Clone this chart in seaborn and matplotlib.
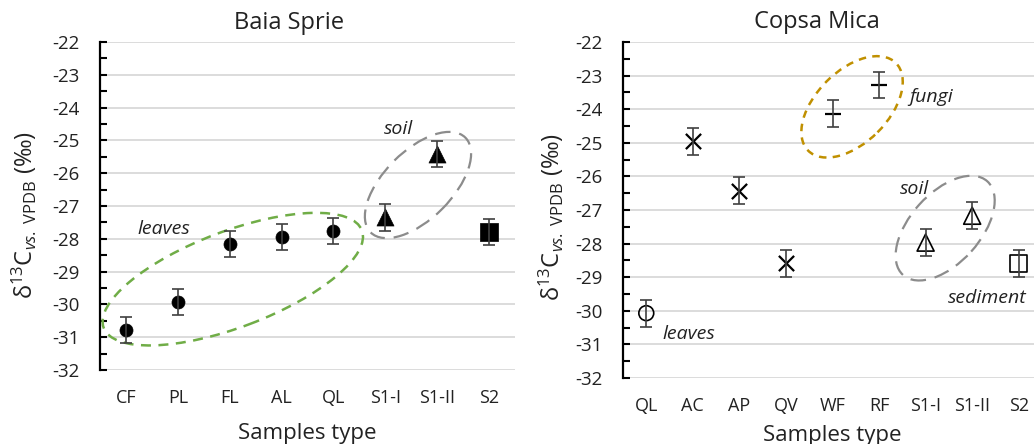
import matplotlib
matplotlib.use('Agg')
import matplotlib.pyplot as plt
import matplotlib.transforms as mtransforms
from matplotlib.patches import Ellipse
from matplotlib.ticker import MultipleLocator
import pandas as pd
import seaborn as sns

# Baia Sprie
bs_samples = ['CF', 'PL', 'FL', 'AL', 'QL', 'S1-I', 'S1-II', 'S2']
bs_d13c = [-30.78, -29.93, -28.16, -27.94, -27.76, -27.35, -25.42, -27.80]
bs_err = [0.40, 0.40, 0.40, 0.40, 0.40, 0.40, 0.40, 0.40]
bs_type = ['leaves', 'leaves', 'leaves', 'leaves', 'leaves', 'soil', 'soil', 'sediment']

# Copsa Mica
cm_samples = ['QL', 'AC', 'AP', 'QV', 'WF', 'RF', 'S1-I', 'S1-II', 'S2']
cm_d13c = [-30.07, -24.95, -26.43, -28.58, -24.14, -23.28, -27.97, -27.17, -28.60]
cm_err = [0.40, 0.40, 0.40, 0.40, 0.40, 0.40, 0.40, 0.40, 0.40]
cm_type = ['leaves', 'bark', 'bark', 'bark', 'fungi', 'fungi', 'soil', 'soil', 'sediment']

sns.set_theme(style='white')
plt.rcParams['font.family'] = ['Open Sans', 'DejaVu Sans']
plt.rcParams['axes.unicode_minus'] = False
plt.rcParams['mathtext.fontset'] = 'custom'
plt.rcParams['mathtext.rm'] = 'Open Sans'
plt.rcParams['mathtext.it'] = 'Open Sans:italic'

bs = pd.DataFrame({'sample': bs_samples, 'd13C': bs_d13c, 'err': bs_err, 'type': bs_type})
cm = pd.DataFrame({'sample': cm_samples, 'd13C': cm_d13c, 'err': cm_err, 'type': cm_type})

# marker, size, filled
bs_style = {'leaves': ('o', 88, True), 'soil': ('^', 150, True), 'sediment': ('s', 165, True)}
cm_style = {'leaves': ('o', 115, False), 'bark': ('x', 120, None), 'fungi': ('_', 135, None),
            'soil': ('^', 150, False), 'sediment': ('s', 150, False)}

fig = plt.figure(figsize=(10.34, 4.44), dpi=100)
ax1 = fig.add_axes([100/1034, 74/444, 415/1034, 328/444])
ax2 = fig.add_axes([623/1034, 66/444, 419/1034, 336/444])


def draw_panel(ax, df, styles, lab_pad):
    ax.errorbar(df['sample'], df['d13C'], yerr=df['err'], fmt='none',
                ecolor='#404040', elinewidth=1.2, capsize=4.3, capthick=1.2, zorder=5)
    for t, (m, s, filled) in styles.items():
        sub = df[df['type'] == t]
        if filled is None:
            sns.scatterplot(data=sub, x='sample', y='d13C', marker=m, s=s, color='black',
                            linewidth=1.6, ax=ax, zorder=4, legend=False)
        elif filled:
            sns.scatterplot(data=sub, x='sample', y='d13C', marker=m, s=s, facecolor='black',
                            edgecolor='black', linewidth=0.5, ax=ax, zorder=4, legend=False)
        else:
            sns.scatterplot(data=sub, x='sample', y='d13C', marker=m, s=s, facecolor='none',
                            edgecolor='black', linewidth=1.2, ax=ax, zorder=4, legend=False)
    ax.set_xlim(-0.5, len(df) - 0.5)
    ax.set_ylim(-32, -22)
    ax.yaxis.set_major_locator(MultipleLocator(1))
    ax.yaxis.set_minor_locator(MultipleLocator(0.5))
    ax.grid(visible=True, which='major', axis='y', color='#d9d9d9', linewidth=1.3)
    ax.set_axisbelow(True)
    for sp in ['top', 'right', 'bottom']:
        ax.spines[sp].set_visible(False)
    ax.spines['left'].set_color('black')
    ax.spines['left'].set_linewidth(1.6)
    ax.tick_params(axis='y', which='both', direction='in', length=5, width=1.5,
                   color='black', left=True, pad=lab_pad, labelsize=13.5, labelcolor='#222222')
    ax.tick_params(axis='x', length=0, pad=14, labelsize=13, labelcolor='#222222')
    ax.set_xlabel('')
    ax.set_ylabel('')


def ring(ax, x, y, a, b, angle, color, dashes, lw):
    tr = fig.dpi_scale_trans + mtransforms.ScaledTranslation(x, y, ax.transData)
    e = Ellipse((0, 0), width=2*a/100, height=2*b/100, angle=angle, transform=tr,
                fill=False, edgecolor=color, linewidth=lw, linestyle=(0, dashes),
                clip_on=False, zorder=2)
    ax.add_patch(e)


draw_panel(ax1, bs, bs_style, 15)
draw_panel(ax2, cm, cm_style, 15)

ring(ax1, 2.06, -29.23, 138, 48, 20.7, '#70ad47', (4, 3), 1.8)
ring(ax1, 5.63, -26.36, 67, 34, 45, '#8c8c8c', (7, 4), 1.6)
ring(ax2, 4.42, -23.93, 62, 36, 45, '#c09000', (3, 2.5), 1.8)
ring(ax2, 6.42, -27.54, 63, 35, 48, '#8c8c8c', (7, 4), 1.6)

note = dict(fontsize=14, style='italic', color='#222222', ha='center', va='center')
ax1.text(0.73, -27.70, 'leaves', **note)
ax1.text(5.25, -24.65, 'soil', **note)
ax2.text(6.12, -23.64, 'fungi', **note)
ax2.text(5.75, -26.38, 'soil', **note)
ax2.text(6.48, -29.62, 'sediment', **{**note, 'ha': 'left'})
ax2.text(0.92, -30.69, 'leaves', **note)

ylab = r'δ$^{13}$C$_{\mathit{vs.}\ \mathrm{VPDB}}$ (‰)'
fig.text(24/1034, 1 - 215/444, ylab, rotation=90, fontsize=17, ha='center', va='center', color='#222222')
fig.text(551/1034, 1 - 217/444, ylab, rotation=90, fontsize=17, ha='center', va='center', color='#222222')

fig.text(289/1034, 1 - 23/444, 'Baia Sprie', fontsize=17, ha='center', va='center', color='#222222')
fig.text(817/1034, 1 - 22/444, 'Copsa Mica', fontsize=17, ha='center', va='center', color='#222222')
fig.text(307/1034, 1 - 433/444, 'Samples type', fontsize=16, ha='center', va='center', color='#222222')
fig.text(832/1034, 1 - 435/444, 'Samples type', fontsize=16, ha='center', va='center', color='#222222')

fig.savefig('out.png', dpi=100)
